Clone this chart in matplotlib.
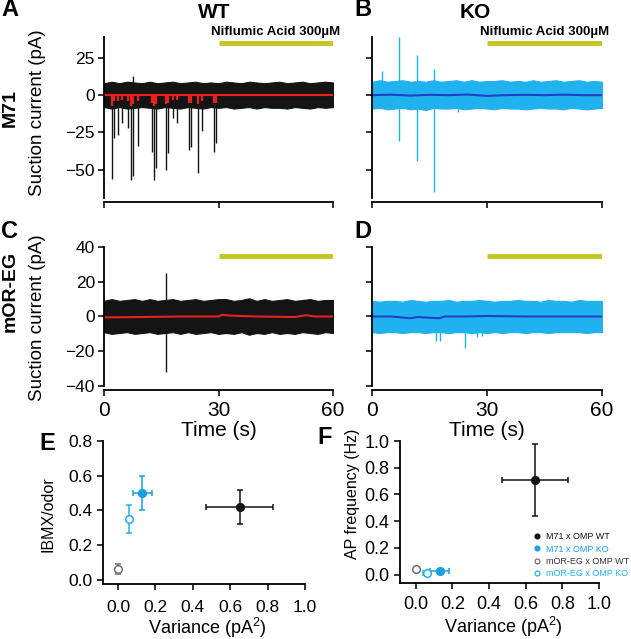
import numpy as np
import matplotlib
matplotlib.use("Agg")
import matplotlib.pyplot as plt
from matplotlib.lines import Line2D

plt.rcParams['font.family'] = ['Liberation Sans', 'DejaVu Sans']
plt.rcParams['mathtext.fontset'] = 'custom'
plt.rcParams['mathtext.rm'] = 'Liberation Sans'

# ---------------- data ----------------
env_t = np.arange(0, 61, 2)  # seconds, envelope sample times

# noise envelope of the raw traces (pA)
A_upper = [8, 9, 8, 9, 8.5, 8, 9, 8, 8.5, 9, 8, 8.5, 9, 8, 8.5, 8, 9, 8.5, 8, 9, 8.5, 8, 8.5, 9, 8, 8.5, 9, 8, 8.5, 9, 8.5]
A_lower = [-8, -9, -8, -9, -8.5, -8, -8.5, -9, -8, -8.5, -9, -8, -8.5, -9, -8, -8.5, -8, -9, -8.5, -8, -9, -8, -8.5, -8.5, -9, -8, -8.5, -9, -8, -8.5, -8]
B_upper = [9, 10, 9, 9.5, 10, 9, 9.5, 9, 10, 9, 9.5, 10, 9, 10, 9, 9.5, 9.5, 10, 9, 9.5, 9, 10, 9, 9.5, 10, 9, 9.5, 10, 9, 9.5, 9]
B_lower = [-9, -8.5, -9.5, -9, -8.5, -9.5, -9, -10, -8.5, -9, -9, -8.5, -9.5, -9, -8.5, -9, -9.5, -8.5, -9, -9, -9.5, -9, -8.5, -9, -9, -9.5, -8.5, -9, -9.5, -9, -8.5]
C_upper = [9, 10, 9, 9.5, 10, 9, 10, 9, 9.5, 10, 9, 9.5, 10, 9, 9.5, 10, 10, 9, 9.5, 10.5, 9, 10, 9, 9.5, 10, 9, 9.5, 10, 9, 9.5, 9.5]
C_lower = [-9, -10, -9.5, -9, -10, -9.5, -9, -10, -9.5, -9, -10, -9, -10, -9.5, -9, -10, -9.5, -10, -9, -10.5, -9.5, -10, -9, -10, -9.5, -10, -9, -9.5, -10, -9, -9.5]
D_upper = [9, 8.5, 9, 9, 8.5, 9.5, 9, 8.5, 9, 9, 9.5, 8.5, 9, 9, 9.5, 9, 8.5, 9, 9, 9.5, 9, 9, 8.5, 9.5, 9, 9, 8.5, 9.5, 9, 9, 9]
D_lower = [-9, -9.5, -9, -9, -9.5, -9, -9, -9.5, -9, -9, -9.5, -9, -9, -9.5, -9, -9.5, -9, -9.5, -9, -9, -9.5, -9, -9, -9.5, -9, -9, -9, -9, -9.5, -9, -9]

# spikes: time (s), bottom and top (pA)
A_spike_t = [2.2, 2.6, 3.7, 4.8, 6.3, 7.0, 7.5, 7.6, 9.0, 12.7, 13.2, 13.6, 16.2, 16.7, 18.2, 19.1, 22.2, 22.8, 24.7, 25.6, 28.8, 29.4]
A_spike_lo = [-56, -29, -27, -19, -22, -57, 0, -54, -34, -38, -57, -49, -50, -39, -15, -19, -37, -35, -52, -24, -38, -32]
A_spike_hi = [0, 0, 0, 0, 0, 0, 13, 0, 0, 0, 0, 0, 0, 0, 0, 0, 0, 0, 0, 0, 0, 0]
B_spike_t = [2.6, 7.0, 11.7, 16.3, 22.4]
B_spike_lo = [0, -31, -44, -65, -11]
B_spike_hi = [16, 39, 27, 17.5, 0]
C_spike_t = [16.2]
C_spike_lo = [-32]
C_spike_hi = [25]
D_spike_t = [16.7, 17.8, 24.2, 27.5, 28.8]
D_spike_lo = [-14, -14, -18, -12, -11]
D_spike_hi = [0, 0, 0, 0, 0]

# averaged traces
A_mean_t = [0, 60]
A_mean_v = [0, 0]
A_dip_t = [2.2, 2.6, 3.7, 4.8, 6.3, 7.0, 7.6, 9.0, 12.7, 13.2, 13.6, 16.2, 16.7, 18.2, 19.1,
           22.2, 22.8, 24.7, 25.6, 28.8, 29.4]
A_dip_v = [-7, -4, -4, -3, -4, -7, -6, -4, -5, -7, -6, -6, -5, -3, -3, -5, -5, -6, -4, -5, -5]
B_mean_t = [0, 5, 10, 15, 20, 25, 30, 35, 40, 45, 50, 55, 60]
B_mean_v = [0, 0.3, -0.3, 0.2, 0, 0.4, -0.5, 0, 0.2, 0, 0.3, 0, 0]
C_mean_t = [0, 10, 20, 30, 31, 33, 40, 50, 53, 55, 60]
C_mean_v = [-0.5, -0.3, 0, 0, 1, 0.5, 0, -0.3, 0.8, 0, 0]
D_mean_t = [0, 5, 10, 12, 17.5, 19, 25, 30, 40, 50, 60]
D_mean_v = [0, 0, -1, -0.3, -1, 0, 0, 0.3, 0, 0, 0]

drug_t = [30, 60]
drug_level = 35

# panel E/F summary: M71 WT, M71 KO, mOR-EG WT, mOR-EG KO
groups = ['M71 x OMP WT', 'M71 x OMP KO', 'mOR-EG x OMP WT', 'mOR-EG x OMP KO']
var_x = [0.65, 0.13, 0.0, 0.06]
var_xerr = [0.18, 0.05, 0.005, 0.012]
ibmx_y = [0.42, 0.50, 0.06, 0.35]
ibmx_yerr = [0.10, 0.10, 0.03, 0.08]
apf_y = [0.71, 0.03, 0.04, 0.01]
apf_yerr = [0.27, 0.01, 0.005, 0.01]
apf_xerr = [0.18, 0.05, 0.005, 0.02]

# ---------------- style ----------------
BLACK = '#141414'
RED = '#e8201c'
CYAN = '#20b2ef'
NAVY = '#2040c8'
YELLOW = '#c4c622'
PTBLUE = '#1c9ee2'
GREY = '#707070'
face = [BLACK, PTBLUE, 'white', 'white']
edge = [BLACK, PTBLUE, GREY, CYAN]
txtcol = [BLACK, PTBLUE, '#333333', CYAN]

W, H = 631, 639
fig = plt.figure(figsize=(W / 100, H / 100), dpi=100)


def px_axes(l, t, r, b):
    return fig.add_axes([l / W, 1 - b / H, (r - l) / W, (b - t) / H])


def style(ax, outward=2):
    for s in ['top', 'right']:
        ax.spines[s].set_visible(False)
    for s in ['left', 'bottom']:
        ax.spines[s].set_linewidth(1.3)
    ax.spines['bottom'].set_position(('outward', outward))
    ax.tick_params(width=1.3, length=4.5, color='#222222')


def trace(ax, upper, lower, sp_t, sp_lo, sp_hi, mt, mv, col, mcol, ylim, yticks, ylab, xlab):
    ax.fill_between(env_t, lower, upper, color=col, lw=0.8, edgecolor=col)
    ax.vlines(sp_t, sp_lo, sp_hi, color=col, lw=1.0)
    ax.plot(mt, mv, color=mcol, lw=1.5)
    ax.plot(drug_t, [drug_level, drug_level], color=YELLOW, lw=3.5, solid_capstyle='butt')
    ax.set_xlim(0, 60)
    ax.set_ylim(*ylim)
    ax.set_xticks([0, 30, 60])
    ax.set_yticks(yticks)
    ax.tick_params(axis='y', labelsize=12.5, labelleft=ylab, pad=2)
    ax.tick_params(axis='x', labelsize=15, labelbottom=xlab, pad=3)
    style(ax, 3)


axA = px_axes(104, 37, 333, 198)
trace(axA, A_upper, A_lower, A_spike_t, A_spike_lo, A_spike_hi, A_mean_t, A_mean_v,
      BLACK, RED, (-69, 39), [-50, -25, 0, 25], True, False)
axA.vlines(A_dip_t, A_dip_v, 0, color=RED, lw=1.6)

axB = px_axes(372, 37, 602, 198)
trace(axB, B_upper, B_lower, B_spike_t, B_spike_lo, B_spike_hi, B_mean_t, B_mean_v,
      CYAN, NAVY, (-69, 39), [-50, -25, 0, 25], False, False)

axC = px_axes(104, 247, 333, 386)
trace(axC, C_upper, C_lower, C_spike_t, C_spike_lo, C_spike_hi, C_mean_t, C_mean_v,
      BLACK, RED, (-40, 40), [-40, -20, 0, 20, 40], True, True)

axD = px_axes(372, 247, 602, 386)
trace(axD, D_upper, D_lower, D_spike_t, D_spike_lo, D_spike_hi, D_mean_t, D_mean_v,
      CYAN, NAVY, (-40, 40), [-40, -20, 0, 20, 40], False, True)

# ---------------- E ----------------
axE = px_axes(103, 441, 305, 584)
for i in range(4):
    axE.errorbar(var_x[i], ibmx_y[i], xerr=var_xerr[i], yerr=ibmx_yerr[i], fmt='o',
                 ms=5.5, mfc=face[i], mec=edge[i], mew=1.1, ecolor=edge[i],
                 elinewidth=1.1, capsize=2.5, capthick=1.1)
axE.set_xlim(-0.08, 1.0)
axE.set_ylim(-0.025, 0.8)
axE.set_xticks([0, 0.2, 0.4, 0.6, 0.8, 1.0])
axE.set_yticks([0, 0.2, 0.4, 0.6, 0.8])
axE.xaxis.set_major_formatter('{x:.1f}')
axE.yaxis.set_major_formatter('{x:.1f}')
axE.tick_params(labelsize=12.5, pad=3)
axE.tick_params(axis='x', pad=7)
style(axE, 0)

# ---------------- F ----------------
axF = px_axes(400, 441, 599, 583)
handles = []
for i in range(4):
    axF.errorbar(var_x[i], apf_y[i], xerr=apf_xerr[i], yerr=apf_yerr[i], fmt='o',
                 ms=5.5, mfc=face[i], mec=edge[i], mew=1.1, ecolor=edge[i],
                 elinewidth=1.1, capsize=2.5, capthick=1.1)
    handles.append(Line2D([], [], ls='none', marker='o', ms=3.5, mfc=face[i],
                          mec=edge[i], mew=0.9, label=groups[i]))
axF.set_xlim(-0.086, 1.0)
axF.set_ylim(-0.063, 1.0)
axF.set_xticks([0, 0.2, 0.4, 0.6, 0.8, 1.0])
axF.set_yticks([0, 0.2, 0.4, 0.6, 0.8, 1.0])
axF.xaxis.set_major_formatter('{x:.1f}')
axF.yaxis.set_major_formatter('{x:.1f}')
axF.tick_params(labelsize=13, pad=3)
axF.tick_params(axis='x', pad=5)
style(axF, 0)
leg = axF.legend(handles=handles, loc='lower left', bbox_to_anchor=(0.645, 0.01),
                 frameon=False, fontsize=6.5, handletextpad=0.4, labelspacing=0.35,
                 borderaxespad=0, handlelength=1.2)
for t, c in zip(leg.get_texts(), txtcol):
    t.set_color(c)

# ---------------- texts ----------------
def ftxt(x, y, s, **kw):
    fig.text(x / W, 1 - y / H, s, ha='center', va='center', **kw)


for lab, x, y in [('A', 10, 10), ('B', 363, 10), ('C', 9, 232), ('D', 363, 232),
                  ('E', 47, 443), ('F', 325, 438)]:
    ftxt(x, y, lab, fontsize=17, fontweight='bold')
ftxt(214, 13, 'WT', fontsize=15, fontweight='bold')
ftxt(475, 13, 'KO', fontsize=15, fontweight='bold')
ftxt(276, 32, 'Niflumic Acid 300µM', fontsize=9.5, fontweight='bold')
ftxt(545, 32, 'Niflumic Acid 300µM', fontsize=9.5, fontweight='bold')
ftxt(10, 108, 'M71', fontsize=14, fontweight='bold', rotation=90)
ftxt(10, 291, 'mOR-EG', fontsize=14, fontweight='bold', rotation=90)
ftxt(38, 113, 'Suction current (pA)', fontsize=13.5, rotation=90)
ftxt(38, 318, 'Suction current (pA)', fontsize=13.5, rotation=90)
ftxt(219, 431, 'Time (s)', fontsize=15)
ftxt(487, 431, 'Time (s)', fontsize=15)
ftxt(48, 514, 'IBMX/odor', fontsize=11.5, rotation=90)
ftxt(352, 494, 'AP frequency (Hz)', fontsize=11.5, rotation=90)
ftxt(207, 628, 'Variance (pA$^{\\mathregular{2}}$)', fontsize=13)
ftxt(503, 627, 'Variance (pA$^{\\mathregular{2}}$)', fontsize=13)

fig.savefig('out.png', dpi=100)
